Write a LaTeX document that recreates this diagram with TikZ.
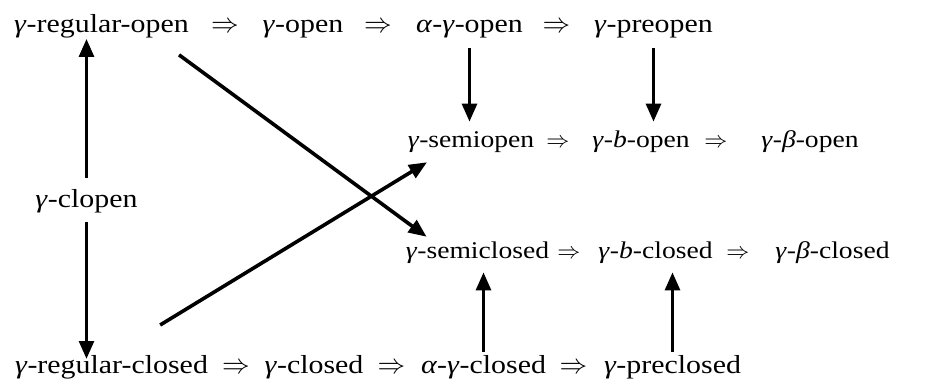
\documentclass[tikz,border=0pt]{standalone}
\usepackage{fontspec}
\setmainfont{Liberation Serif}[FakeStretch=1.15]
\usetikzlibrary{arrows.meta,calc}

\newcommand{\gam}{\textit{γ}}

\tikzset{
  term/.style={inner sep=0pt, anchor=base, text height=13.3pt, text depth=4.2pt,
    font=\fontsize{19.5}{23}\selectfont},
  midterm/.style={term, text height=12.3pt, text depth=3.9pt,
    font=\fontsize{18}{21}\selectfont},
  arr/.style={line width=2.7pt, -{Triangle[width=11pt,length=13.5pt]}},
}

\begin{document}
\begin{tikzpicture}[x=0.75pt, y=-0.75pt]
    \useasboundingbox (0,0) rectangle (935,392);
    % open row
    \node[term] (regopen) at (101.5,33) {\gam-regular-open};
    \node[term] (ia1) at (225,33) {$\Rightarrow$};
    \node[term] (open) at (303,33) {\gam-open};
    \node[term] (ia2) at (378,33) {$\Rightarrow$};
    \node[term] (aopen) at (469.5,33) {\textit{α}-\gam-open};
    \node[term] (ia3) at (556.5,33) {$\Rightarrow$};
    \node[term] (preopen) at (653.5,33) {\gam-preopen};
    % semi / b / beta open
    \node[midterm] (semiopen) at (471,148) {\gam-semiopen};
    \node[midterm] (ib1) at (558,148) {$\Rightarrow$};
    \node[midterm] (bopen) at (641,148) {\gam-\textit{b}-open};
    \node[midterm] (ib2) at (716,148) {$\Rightarrow$};
    \node[midterm] (betaopen) at (810,148) {\gam-\textit{β}-open};
    % clopen
    \node[term] (clopen) at (86.5,208) {\gam-clopen};
    % semi / b / beta closed
    \node[midterm] (semiclosed) at (477.5,258) {\gam-semiclosed};
    \node[midterm] (ic1) at (569,258) {$\Rightarrow$};
    \node[midterm] (bclosed) at (655.5,258) {\gam-\textit{b}-closed};
    \node[midterm] (ic2) at (738,258) {$\Rightarrow$};
    \node[midterm] (betaclosed) at (832.5,258) {\gam-\textit{β}-closed};
    % closed row
    \node[term] (regclosed) at (111.5,373) {\gam-regular-closed};
    \node[term] (id1) at (236,373) {$\Rightarrow$};
    \node[term] (closed) at (314,373) {\gam-closed};
    \node[term] (id2) at (391.5,373) {$\Rightarrow$};
    \node[term] (aclosed) at (483.5,373) {\textit{α}-\gam-closed};
    \node[term] (id3) at (573.5,373) {$\Rightarrow$};
    \node[term] (preclosed) at (672.5,373) {\gam-preclosed};

    \draw[arr, shorten <=9.2pt] (clopen.north) -- (clopen.north |- regopen.south);
    \draw[arr, shorten <=6.3pt, shorten >=-3pt] (clopen.south) -- (clopen.south |- regclosed.north);
    \draw[arr, shorten <=7pt, shorten >=7.2pt] (aopen.south) -- (aopen.south |- semiopen.north);
    \draw[arr, shorten <=7pt, shorten >=7.2pt] (preopen.south) -- (preopen.south |- bopen.north);
    \draw[arr, shorten <=2.4pt, shorten >=6.6pt] (aclosed.north) -- (aclosed.north |- semiclosed.south);
    \draw[arr, shorten <=2.4pt, shorten >=6.6pt] (preclosed.north) -- (preclosed.north |- bclosed.south);
    \draw[arr] ($(regopen.south east)+(-10,16)$) -- ($(semiclosed.north west)+(21,-4.6)$);
    \draw[arr] ($(regclosed.north east)+(-48,-30)$) -- ($(semiopen.south west)+(19.5,8.8)$);
\end{tikzpicture}
\end{document}
